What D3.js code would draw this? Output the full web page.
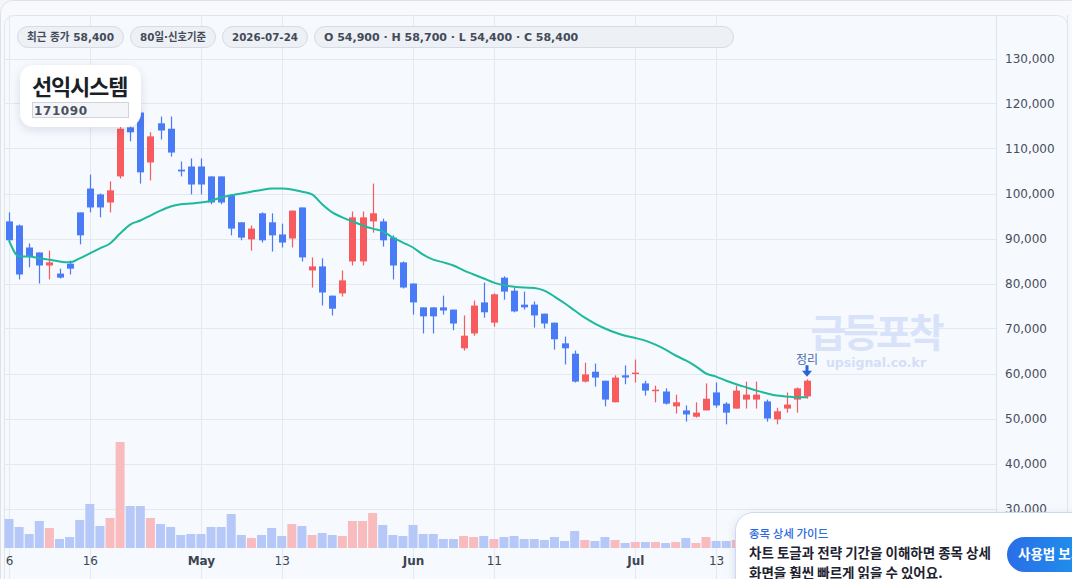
<!DOCTYPE html>
<html>
<head>
<meta charset="utf-8">
<script src="https://cdn.jsdelivr.net/npm/d3@7"></script>
<style>
  html, body { margin: 0; padding: 0; background: #f4f6fa; }
  svg { display: block; font-family: "DejaVu Sans", "Noto Sans CJK KR", sans-serif; }
</style>
</head>
<body>
<div id="chart"></div>
<script>
// 선익시스템 (171090) 일봉, 2026-04-06 ~ 2026-07-24
var firstDay = '2026-04-06', lastDay = '2026-07-24';

var opens  = [93800, 92900, 88000, 86900, 84000, 82200, 84400, 95800, 101100, 99800,
              98000, 103800, 114700, 118000, 106900, 115600, 114400, 105300, 106000, 106000,
              103800, 103800, 99600, 93600, 89800, 95600, 93600, 90900, 90000, 96900,
              82900, 83800, 77300, 77800, 84900, 84900, 93800, 93800, 90200, 84700,
              80000, 74700, 74700, 74700, 74200, 65600, 68900, 75800, 71300, 81300,
              78400, 75300, 75300, 73300, 71300, 66700, 64400, 58200, 60400, 58400,
              53600, 59600, 60000, 57800, 56200, 56000, 52700, 51800, 50400, 51800,
              55800, 53300, 52200, 54200, 54200, 53800, 49800, 52200, 54200, 54900];
var highs  = [95800, 93100, 88900, 86900, 87300, 83300, 85100, 95800, 104200, 100000,
              102700, 117000, 116500, 119100, 113600, 117100, 117100, 107100, 107800, 107800,
              103800, 103800, 99800, 93600, 92900, 95800, 95600, 93300, 96200, 96900,
              85800, 85600, 77300, 82900, 96000, 96000, 102200, 94400, 90700, 84900,
              80000, 74700, 74700, 77300, 74200, 72900, 76200, 80200, 77800, 81600,
              79100, 78200, 76000, 73300, 71300, 68200, 65100, 62400, 62200, 58400,
              59600, 61800, 63100, 58400, 57300, 56700, 55300, 52900, 53600, 57800,
              58000, 53600, 57300, 58200, 58200, 54200, 52400, 55800, 56900, 58700];
var lows   = [89000, 80900, 83600, 80000, 80900, 81100, 82000, 88700, 95800, 94700,
              95800, 103300, 111600, 102200, 102900, 112000, 108200, 103800, 99800, 99800,
              97600, 97600, 90700, 89600, 87300, 89100, 87100, 88000, 88000, 84900,
              79100, 75100, 72900, 77100, 84000, 84000, 91300, 88200, 80900, 78900,
              73100, 68900, 68900, 73100, 69600, 65100, 68400, 72400, 70400, 76400,
              73600, 74200, 70200, 70000, 65300, 62000, 58000, 58000, 57100, 52700,
              53600, 57600, 58000, 55100, 53600, 53100, 51100, 49300, 50200, 51800,
              52400, 48700, 52200, 52200, 52200, 49300, 48700, 51300, 51300, 54400];
var closes = [89600, 82000, 86000, 84000, 84700, 81300, 83300, 90700, 96900, 96900,
              100700, 114400, 113600, 104700, 112700, 114000, 109100, 104900, 102000, 102000,
              98000, 98000, 92200, 90200, 92200, 89600, 90700, 89100, 96200, 85800,
              83800, 78000, 74400, 80700, 94700, 94700, 95600, 89600, 84000, 79100,
              75800, 72700, 72700, 74000, 71100, 68400, 75100, 73600, 77600, 78200,
              73800, 74700, 72900, 71100, 67600, 65600, 58200, 59800, 59100, 54200,
              59100, 59100, 60200, 56200, 56400, 53300, 53600, 50900, 51300, 54400,
              52900, 51300, 56200, 55300, 55300, 50000, 51600, 53100, 56700, 58400];
// 이동평균선
var maLine = [89600, 86000, 86000, 85600, 85300, 84900, 84700, 85600, 86700, 87800,
              88900, 91100, 93100, 94000, 95100, 96200, 97100, 97600, 97800, 98000,
              98400, 99100, 99600, 100000, 100400, 100800, 101100, 101100, 100900, 100400,
              99800, 97600, 95800, 94700, 93800, 92900, 92200, 91600, 90200, 89100,
              88000, 86400, 85300, 84700, 84000, 82900, 82000, 81100, 80200, 79600,
              79300, 79100, 79000, 78400, 77100, 75600, 74000, 72400, 71100, 70000,
              69100, 68400, 67900, 67300, 66400, 65300, 64000, 62900, 61600, 60000,
              59300, 58400, 57600, 56900, 56200, 55600, 55100, 54900, 54700, 54700];
// 거래량 (천주)
var volumes = [290, 210, 140, 270, 200, 90, 110, 280, 440, 220,
               300, 1060, 420, 420, 300, 240, 210, 130, 140, 140,
               210, 210, 340, 130, 100, 130, 200, 120, 240, 220,
               130, 150, 130, 120, 270, 270, 350, 230, 130, 120,
               230, 140, 140, 90, 90, 120, 110, 120, 90, 110,
               120, 90, 90, 80, 110, 70, 170, 80, 70, 110,
               80, 50, 60, 60, 60, 50, 60, 100, 50, 110,
               70, 70, 80, 70, 70, 90, 60, 80, 100, 120];

var priceTicks = [130000, 120000, 110000, 100000, 90000, 80000, 70000, 60000, 50000, 40000, 30000];
var tickDates = ['2026-04-06', '2026-04-16', '2026-05-01', '2026-05-13', '2026-06-01', '2026-06-11', '2026-07-01', '2026-07-13'];

var chips = ['최근 종가 58,400', '80일·신호기준', '2026-07-24', 'O 54,900 · H 58,700 · L 54,400 · C 58,400'];
var stockName = '선익시스템', stockCode = '171090';
var noteLabel = '정리';
var guideTitle = '종목 상세 가이드';
var guideLines = ['차트 토글과 전략 기간을 이해하면 종목 상세', '화면을 훨씬 빠르게 읽을 수 있어요.'];
var guideButton = '사용법 보기';

var W = 1072, H = 579;
var plotLeft = 4, plotRight = 996, plotTop = 15, volBase = 548;
var UP = '#f85b5e', DOWN = '#4a7bf7', UP_VOL = '#f8bcbf', DOWN_VOL = '#b6c8f8';

var parse = d3.timeParse('%Y-%m-%d'), fmt = d3.timeFormat('%Y-%m-%d');
// 거래일 (주말 제외)
var days = d3.timeDay.range(parse(firstDay), d3.timeDay.offset(parse(lastDay), 1))
  .filter(function (d) { return d.getDay() !== 0 && d.getDay() !== 6; });
var data = days.map(function (d, i) {
  return { date: d, i: i, o: opens[i], h: highs[i], l: lows[i], c: closes[i], ma: maLine[i], v: volumes[i] };
});

var x = d3.scaleLinear().domain([0, data.length - 1]).range([9, 807]);
var y = d3.scaleLinear().domain([30000, 130000]).range([508.5, 58.5]);
var yv = d3.scaleLinear().domain([0, d3.max(volumes)]).range([volBase, 442]);

var svg = d3.select('#chart').append('svg').attr('width', W).attr('height', H);
var defs = svg.append('defs');
var sh = defs.append('filter').attr('id', 'shadow').attr('x', '-30%').attr('y', '-30%').attr('width', '160%').attr('height', '160%');
sh.append('feDropShadow').attr('dx', 0).attr('dy', 3).attr('stdDeviation', 5).attr('flood-color', '#1c2b4a').attr('flood-opacity', 0.12);
var grad = defs.append('linearGradient').attr('id', 'btn').attr('x1', 0).attr('x2', 1).attr('y1', 0).attr('y2', 0);
grad.append('stop').attr('offset', '0%').attr('stop-color', '#2b6de8');
grad.append('stop').attr('offset', '100%').attr('stop-color', '#17a2ec');
defs.append('clipPath').attr('id', 'plotClip').append('rect')
  .attr('x', plotLeft).attr('y', plotTop).attr('width', plotRight - plotLeft).attr('height', H - plotTop);

// 배경 카드
svg.append('rect').attr('x', 0.5).attr('y', 0.5).attr('width', W + 10).attr('height', H + 20).attr('rx', 12)
  .attr('fill', '#f8f9fc').attr('stroke', '#dde2ea');
svg.append('rect').attr('x', plotLeft + 0.5).attr('y', plotTop + 0.5).attr('width', 1067 - plotLeft).attr('height', H)
  .attr('rx', 10).attr('fill', '#f6f9fe').attr('stroke', '#e0e5ed');

var plot = svg.append('g').attr('clip-path', 'url(#plotClip)');

// 그리드
plot.append('g').selectAll('line').data(priceTicks).enter().append('line')
  .attr('x1', plotLeft).attr('x2', plotRight)
  .attr('y1', function (d) { return Math.round(y(d)) + 0.5; })
  .attr('y2', function (d) { return Math.round(y(d)) + 0.5; })
  .attr('stroke', '#e4e8ef').attr('stroke-width', 1);
var tickIdx = tickDates.map(function (s) {
  return data.findIndex(function (d) { return fmt(d.date) === s; });
});
plot.append('g').selectAll('line').data(tickIdx).enter().append('line')
  .attr('x1', function (i) { return Math.round(x(i)) + 0.5; })
  .attr('x2', function (i) { return Math.round(x(i)) + 0.5; })
  .attr('y1', plotTop).attr('y2', H)
  .attr('stroke', '#e4e8ef');

// 워터마크
svg.append('text').attr('x', 876).attr('y', 347).attr('text-anchor', 'middle')
  .attr('font-family', 'Noto Sans CJK KR').attr('font-weight', 700).attr('font-size', 39)
  .attr('letter-spacing', -3).attr('fill', '#d8e3fa').text('급등포착');
svg.append('text').attr('x', 876).attr('y', 367).attr('text-anchor', 'middle')
  .attr('font-weight', 700).attr('font-size', 12.5).attr('fill', '#d3dff8').text('upsignal.co.kr');

// 거래량
plot.append('g').selectAll('rect').data(data).enter().append('rect')
  .attr('x', function (d) { return x(d.i) - 4.5; })
  .attr('width', 9)
  .attr('y', function (d) { return yv(d.v); })
  .attr('height', function (d) { return volBase - yv(d.v); })
  .attr('fill', function (d) { return d.c >= d.o ? UP_VOL : DOWN_VOL; });

// 캔들
var candle = plot.append('g').selectAll('g').data(data).enter().append('g');
candle.append('line')
  .attr('x1', function (d) { return Math.round(x(d.i)) + 0.5; })
  .attr('x2', function (d) { return Math.round(x(d.i)) + 0.5; })
  .attr('y1', function (d) { return y(d.h); })
  .attr('y2', function (d) { return y(d.l); })
  .attr('stroke', function (d) { return d.c >= d.o ? UP : DOWN; })
  .attr('stroke-width', 1.2);
candle.append('rect')
  .attr('x', function (d) { return Math.round(x(d.i)) - 3; })
  .attr('width', 7)
  .attr('y', function (d) { return y(Math.max(d.o, d.c)); })
  .attr('height', function (d) { return Math.max(1.5, Math.abs(y(d.o) - y(d.c))); })
  .attr('fill', function (d) { return d.c >= d.o ? UP : DOWN; });

// 이동평균
var line = d3.line().x(function (d) { return x(d.i); }).y(function (d) { return y(d.ma); }).curve(d3.curveMonotoneX);
plot.append('path').datum(data).attr('d', line)
  .attr('fill', 'none').attr('stroke', '#1db99b').attr('stroke-width', 2);

// 신호 표시
var last = data[data.length - 1];
var ax = x(last.i), ay = y(last.h) - 2;
svg.append('text').attr('x', ax).attr('y', ay - 13).attr('text-anchor', 'middle')
  .attr('font-family', 'Noto Sans CJK KR').attr('font-size', 12).attr('fill', '#4a6db3').text(noteLabel);
svg.append('path')
  .attr('d', 'M' + (ax - 1.5) + ',' + (ay - 12) + 'h3v5.5h3.5l-5,6l-5,-6h3.5z')
  .attr('fill', '#2a62d8');

// 가격축
svg.append('line').attr('x1', plotRight + 0.5).attr('x2', plotRight + 0.5).attr('y1', plotTop).attr('y2', H)
  .attr('stroke', '#e0e5ed');
svg.append('line').attr('x1', 1067.5).attr('x2', 1067.5).attr('y1', plotTop).attr('y2', H)
  .attr('stroke', '#e0e5ed');
var yAxis = svg.append('g').attr('transform', 'translate(' + (plotRight + 9) + ',0)')
  .call(d3.axisRight(y).tickValues(priceTicks).tickSize(0).tickPadding(0).tickFormat(d3.format(',')));
yAxis.select('.domain').remove();
yAxis.selectAll('text').attr('font-size', 12).attr('fill', '#474e5c')
  .attr('font-family', '"DejaVu Sans", sans-serif');

// 날짜축
var monthFmt = d3.timeFormat('%b'), dayFmt = d3.timeFormat('%-d');
var xAxis = svg.append('g').attr('transform', 'translate(0,' + 556 + ')')
  .call(d3.axisBottom(x).tickValues(tickIdx).tickSize(0).tickPadding(0).tickFormat(function (i) {
    var d = data[i].date;
    return d.getDate() === 1 ? monthFmt(d) : dayFmt(d);
  }));
xAxis.select('.domain').remove();
xAxis.selectAll('text').attr('font-size', 12).attr('fill', '#3d4452')
  .attr('font-family', '"DejaVu Sans", sans-serif')
  .attr('font-weight', function (i) { return data[i].date.getDate() === 1 ? 700 : 400; });

// 상단 칩
var chipW = [106, 85, 85, 419];
var chipG = svg.append('g');
var cx = 17;
chips.forEach(function (t, k) {
  var g = chipG.append('g');
  g.append('rect').attr('x', cx + 0.5).attr('y', 26.5).attr('width', chipW[k]).attr('height', 21).attr('rx', 10.5)
    .attr('fill', '#edf0f5').attr('stroke', '#d6dbe4');
  var txt = g.append('text').attr('x', cx + 10).attr('y', 41).attr('font-size', 11).attr('font-weight', 700)
    .attr('fill', '#434a58').text(t);
  var tw = txt.node().getComputedTextLength();
  if (tw > chipW[k] - 18) txt.attr('textLength', chipW[k] - 19).attr('lengthAdjust', 'spacingAndGlyphs');
  cx += chipW[k] + 7;
});

// 종목명 박스
svg.append('rect').attr('x', 20).attr('y', 65).attr('width', 121).attr('height', 62).attr('rx', 14)
  .attr('fill', '#ffffff').attr('filter', 'url(#shadow)');
svg.append('text').attr('x', 32).attr('y', 95).attr('font-family', 'Noto Sans CJK KR').attr('font-weight', 700)
  .attr('font-size', 22).attr('letter-spacing', -1.2).attr('fill', '#1b1f27').text(stockName);
svg.append('rect').attr('x', 32.5).attr('y', 102.5).attr('width', 96).attr('height', 15)
  .attr('fill', '#f3f5f8').attr('stroke', '#cfd4dc');
svg.append('text').attr('x', 34).attr('y', 114.5).attr('font-weight', 700).attr('font-size', 12)
  .attr('letter-spacing', 0.6).attr('fill', '#4a5060').text(stockCode);

// 가이드 카드
var guide = svg.append('g');
guide.append('rect').attr('x', 735.5).attr('y', 512.5).attr('width', 380).attr('height', 120).attr('rx', 18)
  .attr('fill', '#ffffff').attr('stroke', '#cad9f6').attr('filter', 'url(#shadow)');
guide.append('text').attr('x', 749).attr('y', 538).attr('font-family', 'Noto Sans CJK KR').attr('font-weight', 500)
  .attr('font-size', 11.5).attr('fill', '#2b6be2').text(guideTitle);
guideLines.forEach(function (t, k) {
  guide.append('text').attr('x', 749).attr('y', 558 + k * 20).attr('font-family', 'Noto Sans CJK KR')
    .attr('font-weight', 700).attr('font-size', 13.5).attr('fill', '#1d2230').text(t);
});
guide.append('rect').attr('x', 1007).attr('y', 537).attr('width', 110).attr('height', 35).attr('rx', 17.5)
  .attr('fill', 'url(#btn)');
guide.append('text').attr('x', 1018).attr('y', 559).attr('font-family', 'Noto Sans CJK KR').attr('font-weight', 700)
  .attr('font-size', 13.5).attr('fill', '#ffffff').text(guideButton);
</script>
</body>
</html>
